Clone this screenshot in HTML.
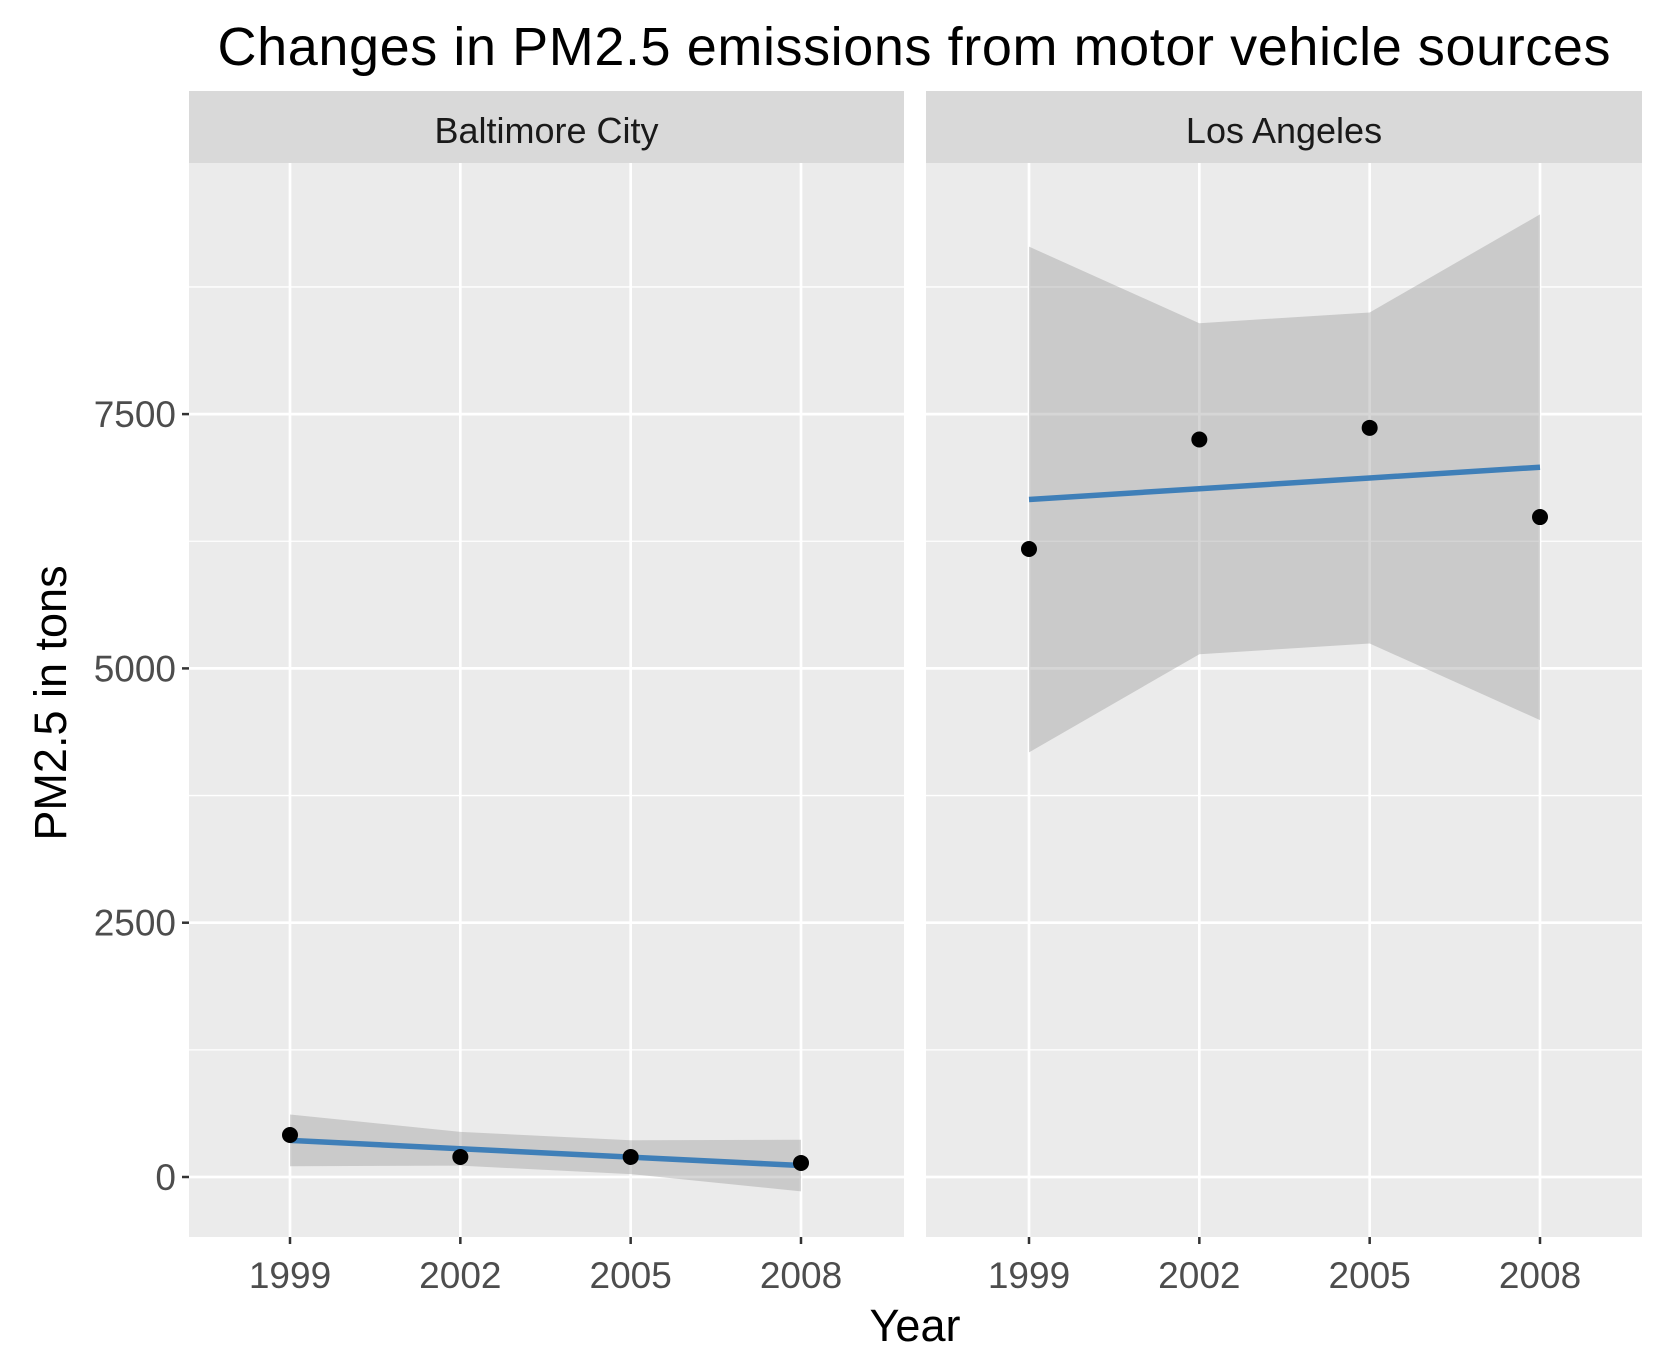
<!DOCTYPE html>
<html><head><meta charset="utf-8">
<style>
html,body{margin:0;padding:0;background:#fff;}
svg{display:block;font-family:"Liberation Sans",Arial,sans-serif;}
</style></head>
<body>
<svg id="chart" width="1665" height="1371" viewBox="0 0 1665 1371">
<text x="914" y="65" font-size="54" text-anchor="middle" textLength="1393" fill="#000">Changes in PM2.5 emissions from motor vehicle sources</text>
<text transform="translate(66,703) rotate(-90)" font-size="45" text-anchor="middle" fill="#000">PM2.5 in tons</text>
<text x="915" y="1341" font-size="45" text-anchor="middle" fill="#000">Year</text>
<g id="plot"></g>
</svg>
<script>
const years = [1999, 2002, 2005, 2008];
const facets = ["Baltimore City", "Los Angeles"];
const baltimoreValues = [413, 197, 197, 138];
const losAngelesValues = [6174, 7250, 7365, 6488];
const yTicks = [0, 2500, 5000, 7500];
const yMinor = [1250, 3750, 6250, 8750];
const xTickLabels = ["1999", "2002", "2005", "2008"];

const NS = "http://www.w3.org/2000/svg";
const plot = document.getElementById("plot");
function mk(tag, attrs, parent) {
  const e = document.createElementNS(NS, tag);
  for (const k in attrs) e.setAttribute(k, attrs[k]);
  (parent || plot).appendChild(e);
  return e;
}
const panelTop = 163, panelBottom = 1237;
function yScale(v) { return 1177 - v * (254.3 / 2500); }
const panels = [
  { left: 189, right: 904, x0: 290, values: baltimoreValues },
  { left: 926, right: 1642, x0: 1029, values: losAngelesValues }
];
const pxPerYear = (801 - 290) / 9;

function fit(xs, ys) {
  const n = xs.length;
  const mx = xs.reduce((a, b) => a + b, 0) / n;
  const my = ys.reduce((a, b) => a + b, 0) / n;
  let sxx = 0, sxy = 0;
  xs.forEach((x, i) => { sxx += (x - mx) ** 2; sxy += (x - mx) * (ys[i] - my); });
  const b = sxy / sxx, a = my - b * mx;
  let sse = 0;
  xs.forEach((x, i) => { sse += (ys[i] - a - b * x) ** 2; });
  const s = Math.sqrt(sse / (n - 2));
  const t = 4.302653;
  return { a, b, s, mx, sxx, n, t };
}

panels.forEach((p, pi) => {
  const xScale = yr => p.x0 + (yr - 1999) * pxPerYear;
  const g = mk("g", {});
  
  
  mk("rect", { x: p.left, y: 91, width: p.right - p.left, height: 72, fill: "#D9D9D9" }, g);
  const st = mk("text", { x: (p.left + p.right) / 2, y: 143, "font-size": 36, "text-anchor": "middle", fill: "#1A1A1A" }, g);
  st.textContent = facets[pi];
  
  
  mk("rect", { x: p.left, y: panelTop, width: p.right - p.left, height: panelBottom - panelTop, fill: "#EBEBEB" }, g);
  yMinor.forEach(v => mk("line", { x1: p.left, x2: p.right, y1: yScale(v), y2: yScale(v), stroke: "#fff", "stroke-width": 1.3 }, g));
  yTicks.forEach(v => mk("line", { x1: p.left, x2: p.right, y1: yScale(v), y2: yScale(v), stroke: "#fff", "stroke-width": 2.7 }, g));
  years.forEach(yr => mk("line", { x1: xScale(yr), x2: xScale(yr), y1: panelTop, y2: panelBottom, stroke: "#fff", "stroke-width": 2.7 }, g));

  const f = fit(years, p.values);
  const upper = [], lower = [], line = [];
  years.forEach(x => {
    const yh = f.a + f.b * x;
    const se = f.s * Math.sqrt(1 / f.n + (x - f.mx) ** 2 / f.sxx);
    upper.push([xScale(x), yScale(yh + f.t * se)]);
    lower.push([xScale(x), yScale(yh - f.t * se)]);
    line.push([xScale(x), yScale(yh)]);
  });
  const bandPts = upper.concat(lower.reverse()).map(q => q.join(",")).join(" ");
  const band = mk("polygon", { points: bandPts, fill: "#999999", "fill-opacity": 0.4 }, g);
  
  
  const ln = mk("polyline", { points: line.map(q => q.join(",")).join(" "), fill: "none", stroke: "#3F7FB8", "stroke-width": 5.5 }, g);
  
  
  p.values.forEach((v, i) => {
    const c = mk("circle", { cx: xScale(years[i]), cy: yScale(v), r: 8, fill: "#000" }, g);
    
    
  });

  years.forEach((yr, i) => {
    mk("line", { x1: xScale(yr), x2: xScale(yr), y1: panelBottom, y2: panelBottom + 7, stroke: "#333", "stroke-width": 2.5 }, g);
    const t = mk("text", { x: xScale(yr), y: 1288, "font-size": 37, "text-anchor": "middle", fill: "#4D4D4D" }, g);
    t.textContent = xTickLabels[i];
    
    
  });
  if (pi === 0) {
    yTicks.forEach(v => {
      mk("line", { x1: p.left - 7, x2: p.left, y1: yScale(v), y2: yScale(v), stroke: "#333", "stroke-width": 2.5 }, g);
      const t = mk("text", { x: p.left - 13, y: yScale(v) + 13, "font-size": 37, "text-anchor": "end", fill: "#4D4D4D" }, g);
      t.textContent = String(v);
      
      
    });
  }
});
</script>
</body></html>
